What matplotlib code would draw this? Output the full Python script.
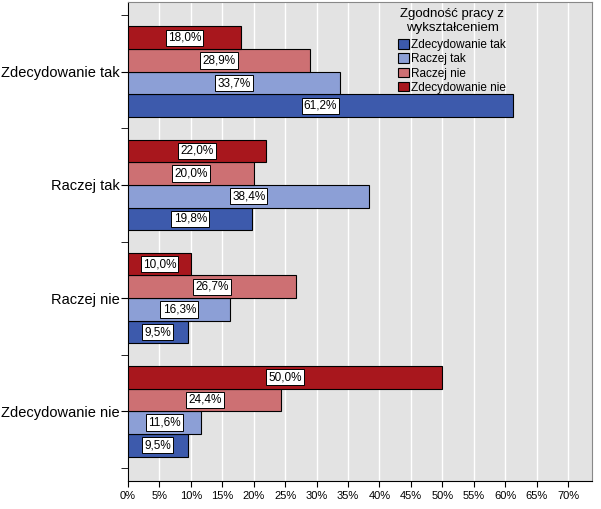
import numpy as np
import matplotlib.pyplot as plt

plt.rcParams['font.family'] = ['Liberation Sans', 'DejaVu Sans']

categories = ['Zdecydowanie tak', 'Raczej tak', 'Raczej nie', 'Zdecydowanie nie']
series = ['Zdecydowanie tak', 'Raczej tak', 'Raczej nie', 'Zdecydowanie nie']
values = {
    'Zdecydowanie tak': [61.2, 19.8, 9.5, 9.5],
    'Raczej tak': [33.7, 38.4, 16.3, 11.6],
    'Raczej nie': [28.9, 20.0, 26.7, 24.4],
    'Zdecydowanie nie': [18.0, 22.0, 10.0, 50.0],
}
colors = ['#3d5aac', '#8c9fd6', '#cd7073', '#a8171d']
xticks = np.arange(0, 75, 5)

fig = plt.figure(figsize=(6.01, 5.09), dpi=100)
ax = fig.add_axes([128 / 601, 28 / 509, 464 / 601, 479 / 509])
ax.set_facecolor('#e3e3e3')

y = np.arange(len(categories))
h = 0.2
# order in group from top: Zdecydowanie nie ... Zdecydowanie tak
for i, (s, c) in enumerate(zip(series, colors)):
    pos = y + (1.5 - i) * h
    vals = values[s]
    ax.barh(pos, vals, height=h, color=c, edgecolor='black', linewidth=0.8,
            label=s, zorder=3)
    for p, v in zip(pos, vals):
        ax.text(v / 2, p, f'{v:.1f}%'.replace('.', ','), ha='center', va='center',
                fontsize=8.5, zorder=4,
                bbox=dict(boxstyle='square,pad=0.18', fc='white', ec='black', lw=0.7))

ax.set_ylim(3.5 + 0.116, -0.5 - 0.116)
ax.set_xlim(0, 73.8)
ax.set_yticks(y)
ax.set_yticklabels(categories, fontsize=10.5)
ax.set_yticks(np.arange(-0.5, 4, 1), minor=True)
ax.tick_params(axis='y', which='major', length=5, pad=1)
ax.tick_params(axis='y', which='minor', length=5)
ax.set_xticks(xticks)
ax.set_xticklabels([f'{t}%' for t in xticks], fontsize=8)
ax.tick_params(axis='x', length=4, pad=3)
ax.grid(axis='x', color='white', linewidth=1, zorder=0)
ax.set_axisbelow(True)
for side in ['top', 'right']:
    ax.spines[side].set_color('#888888')
for side in ['left', 'bottom']:
    ax.spines[side].set_color('black')

leg = ax.legend(title='Zgodność pracy z\nwykształceniem', loc='upper right',
                bbox_to_anchor=((512 - 128) / 464, 1.0), frameon=False, fontsize=8.5,
                title_fontsize=9.5, handlelength=0.9, handleheight=0.9,
                handletextpad=0.2, labelspacing=0.18, borderaxespad=0.2,
                borderpad=0.3)
leg.get_title().set_multialignment('center')
leg._legend_box.sep = 4

fig.savefig('out.png', dpi=100)
